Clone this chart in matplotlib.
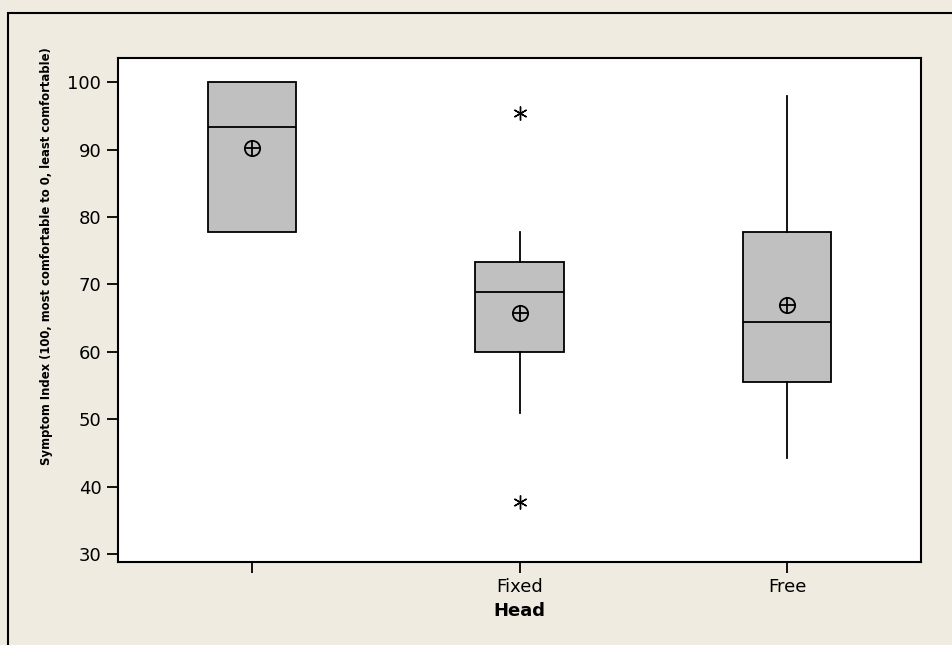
import numpy as np
import matplotlib.pyplot as plt
from matplotlib.patches import Rectangle

# box statistics
labels = ['', 'Fixed', 'Free']
q1 = [77.75, 60.0, 55.5]
med = [93.3, 68.9, 64.4]
q3 = [100.0, 73.3, 77.75]
whislo = [77.75, 51.0, 44.3]
whishi = [100.0, 77.75, 97.9]
means = [90.3, 65.7, 67.0]
outliers = [[], [95.4, 37.65], []]

bg = '#efebe1'
W, H = 952, 645
fig = plt.figure(figsize=(W / 100, H / 100), dpi=100, facecolor=bg)
ax = fig.add_axes([118 / W, 1 - 561.7 / H, (921 - 118) / W, (561.7 - 57.7) / H])
ax.set_facecolor('white')

stats = []
for i in range(3):
    stats.append(dict(q1=q1[i], med=med[i], q3=q3[i], whislo=whislo[i],
                      whishi=whishi[i], fliers=outliers[i], label=labels[i]))

ax.bxp(stats, positions=[1, 2, 3], widths=0.33, patch_artist=True,
       showcaps=False, showfliers=True,
       boxprops=dict(facecolor='#c0c0c0', edgecolor='black', linewidth=1.3),
       medianprops=dict(color='black', linewidth=1.3),
       whiskerprops=dict(color='black', linewidth=1.3),
       flierprops=dict(marker=(6, 2, 0), markersize=10, markeredgecolor='black',
                       markeredgewidth=1.0, linestyle='none'))

# mean symbol: circle with cross
ax.plot([1, 2, 3], means, 'o', ms=11, mfc='none', mec='black', mew=1.3)
ax.plot([1, 2, 3], means, '+', ms=11, mec='black', mew=1.3)

ax.set_xlim(0.5, 3.5)
ax.set_ylim(28.86, 103.65)
ax.set_yticks([30, 40, 50, 60, 70, 80, 90, 100])
ax.set_xticks([1, 2, 3])
ax.set_xticklabels(labels)
ax.tick_params(axis='both', direction='out', length=8, width=1.3, labelsize=13,
               colors='black', pad=4)
for s in ax.spines.values():
    s.set_linewidth(1.5)
    s.set_color('black')

ax.set_xlabel('Head', fontsize=13, fontweight='bold', labelpad=4)
fig.text(47 / W, 1 - 256 / H,
         'Symptom Index (100, most comfortable to 0, least comfortable)',
         rotation=90, ha='center', va='center', fontsize=8.4, fontweight='bold')

# outer frame
fig.patches.append(Rectangle((8 / W, -0.1), 1.2, 1 - 12.5 / H + 0.1,
                             transform=fig.transFigure, fill=False,
                             edgecolor='black', linewidth=1.5))

fig.savefig('out.png', dpi=100, facecolor=bg)
